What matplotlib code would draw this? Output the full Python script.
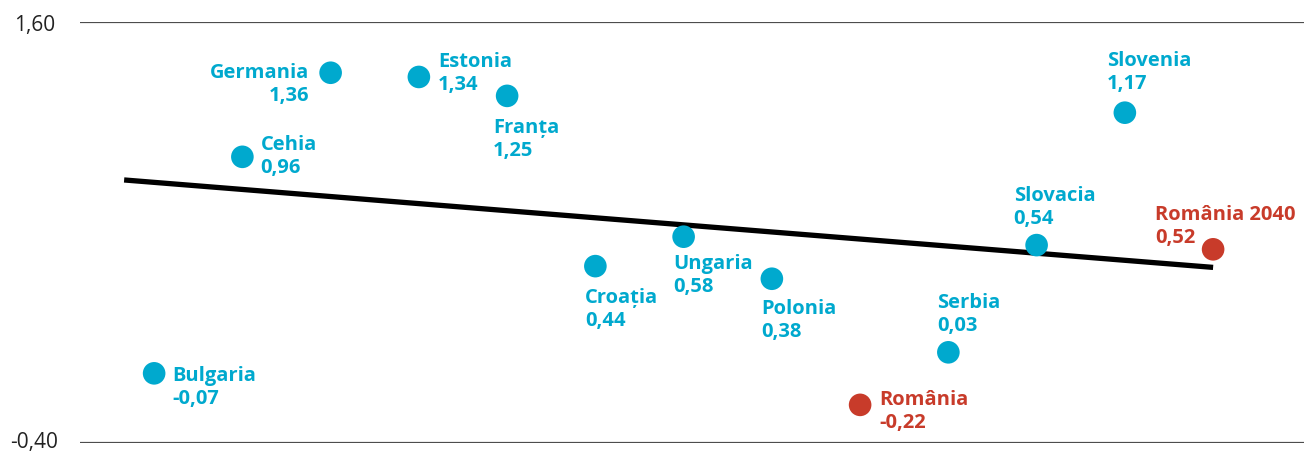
import matplotlib.pyplot as plt
import matplotlib.transforms as mtransforms

# date
tari = ['Bulgaria', 'Cehia', 'Germania', 'Estonia', 'Franța', 'Croația', 'Ungaria',
        'Polonia', 'România', 'Serbia', 'Slovacia', 'Slovenia', 'România 2040']
valori = [-0.07, 0.96, 1.36, 1.34, 1.25, 0.44, 0.58, 0.38, -0.22, 0.03, 0.54, 1.17, 0.52]
evidentiat = ['România', 'România 2040']
# linia de tendinta (x in pozitii de categorie)
trend_x = [0.66, 13]
trend_y = [0.85, 0.434]
yticks = [-0.40, 1.60]

ALBASTRU = '#00A9CE'
ROSU = '#C83B2A'

# pozitia etichetelor fata de punct, in pixeli (dx, dy, aliniere)
offs = {
    'Bulgaria': (18, -13, 'left'),
    'Cehia': (18, 1, 'left'),
    'Germania': (-21, -11, 'right'),
    'Estonia': (19, 4, 'left'),
    'Franța': (-14, -43, 'left'),
    'Croația': (-10, -42, 'left'),
    'Ungaria': (-10, -38, 'left'),
    'Polonia': (-11, -41, 'left'),
    'România': (19, -6, 'left'),
    'Serbia': (-11, 39, 'left'),
    'Slovacia': (-23, 39, 'left'),
    'Slovenia': (-18, 41, 'left'),
    'România 2040': (-58, 24, 'left'),
}

plt.rcParams['font.family'] = ['Open Sans', 'DejaVu Sans']

fig = plt.figure(figsize=(13.04, 4.52), dpi=100)
ax = fig.add_axes([80 / 1304, 8.3 / 452, 1 - 80 / 1304, 420.4 / 452])

xs = list(range(1, len(tari) + 1))
culori = [ROSU if t in evidentiat else ALBASTRU for t in tari]

for y in yticks:
    ax.axhline(y, color='#4d4d4d', lw=1.6, zorder=1)

ax.plot(trend_x, trend_y, color='black', lw=3.8, solid_capstyle='butt', zorder=2)
ax.scatter(xs, valori, s=265, c=culori, linewidths=0, zorder=3)

for x, v, t, c in zip(xs, valori, tari, culori):
    dx, dy, ha = offs[t]
    ax.annotate(f'{t}\n{v:.2f}'.replace('.', ','), (x, v), xytext=(dx, dy),
                textcoords='offset pixels', ha=ha, va='center', multialignment=ha,
                color=c, fontsize=14.5, fontweight='bold', linespacing=1.2,
                annotation_clip=False)

ax.set_xlim(0.16, 14.03)
ax.set_ylim(-0.40, 1.60)
ax.set_xticks([])
ax.set_yticks(yticks)
ax.set_yticklabels([f'{y:.2f}'.replace('.', ',') for y in yticks], fontsize=15,
                   color='#222222', ha='center')
ax.tick_params(axis='y', length=0, pad=33)
# eticheta de jos putin mai sus, ca sa nu iasa din imagine
jos = ax.get_yticklabels()[0]
jos.set_transform(jos.get_transform() + mtransforms.ScaledTranslation(0, 4 / 100, fig.dpi_scale_trans))
for s in ax.spines.values():
    s.set_visible(False)

fig.savefig('out.png', dpi=100)
